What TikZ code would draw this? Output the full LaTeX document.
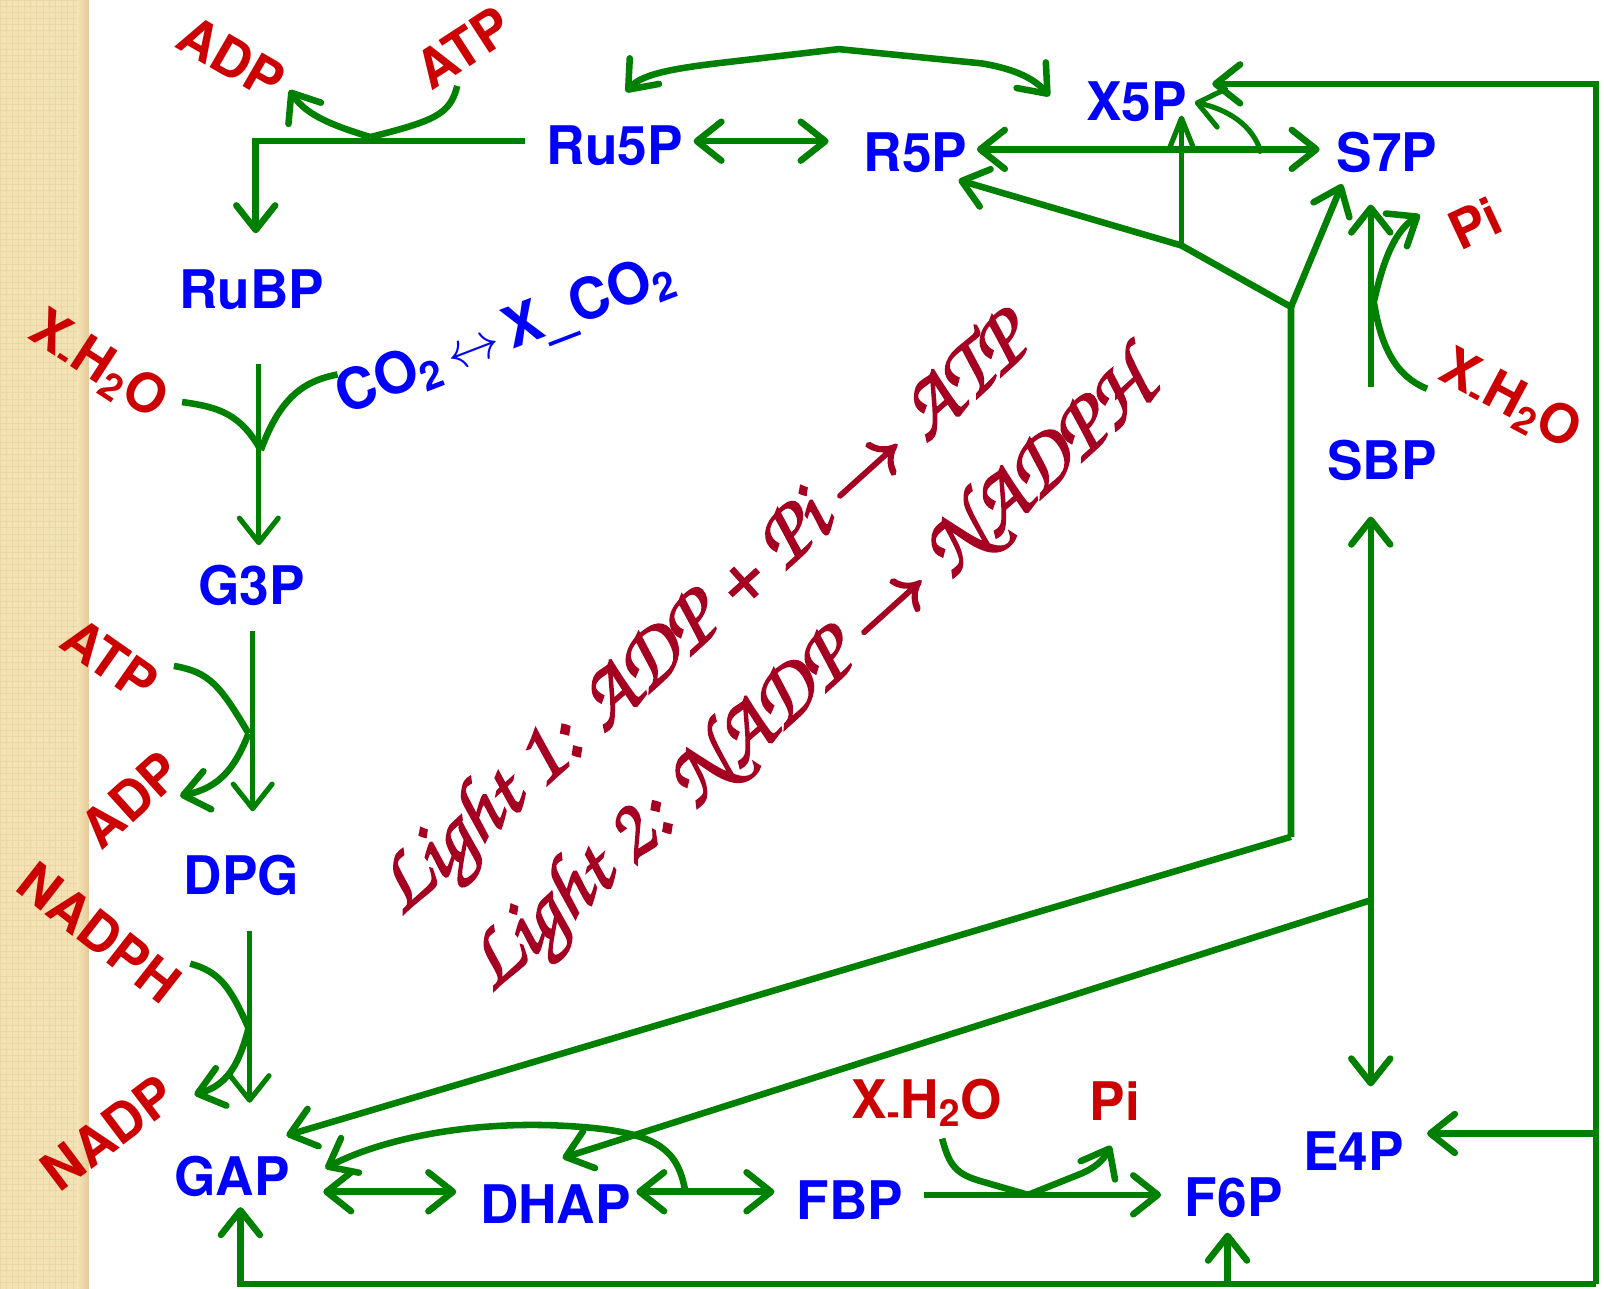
\documentclass[tikz,border=0pt]{standalone}
\usepackage[T1]{fontenc}
\usepackage{helvet}
\usepackage{graphicx}
\usetikzlibrary{arrows.meta}
\definecolor{pgreen}{RGB}{0,128,0}
\definecolor{mblue}{RGB}{0,0,255}
\definecolor{cred}{RGB}{204,0,0}
\definecolor{lightred}{RGB}{165,0,33}
\definecolor{strip}{RGB}{243,226,180}
\newcommand\labfont{\fontfamily{phv}\fontseries{b}\fontshape{n}\fontsize{26}{29}\selectfont}
\newcommand\chancery{\fontfamily{pzc}\fontseries{mb}\fontshape{it}\fontsize{42}{44}\selectfont}
\newcommand\water{X\textsubscript{-}H\textsubscript{2}O}
\newcommand\yields{\scalebox{1.7}[1.5]{$\rightarrow$}}
% heavier script strokes: fill and stroke the glyphs
\newcommand\heavy[1]{\special{pdf:literal direct 2 Tr 0.9 w}#1\special{pdf:literal direct 0 Tr}}
\begin{document}
\begin{tikzpicture}[x=0.5pt,y=-0.5pt,
  met/.style={text=mblue,font=\labfont,anchor=base,inner sep=0pt},
  cof/.style={text=cred,font=\labfont,inner sep=0pt},
  fl/.style={draw=pgreen,line width=3.2pt},
  thin fl/.style={draw=pgreen,line width=2.5pt},
  >={Straight Barb[length=12pt,width=19pt,round]},
  narrow/.style={-{Straight Barb[length=15pt,width=12pt,round]}}]
\useasboundingbox (0,0) rectangle (1568,1260);
% side strip
\fill[strip] (0,0) rectangle (87,1260);
\draw[strip!88!brown,line width=0.4pt,step=3pt] (0,0) grid (78,1260);
\shade[left color=strip,right color=strip!75!brown] (76,0) rectangle (87,1260);

% metabolites
\node[met] (Ru5P) at (601,161) {Ru5P};
\node[met] (R5P)  at (895,168) {R5P};
\node[met] (X5P)  at (1111,118) {X5P};
\node[met] (S7P)  at (1356,168) {S7P};
\node[met] (RuBP) at (246,302) {RuBP};
\node[met] (SBP)  at (1351,469) {SBP};
\node[met] (G3P)  at (246,591) {G3P};
\node[met] (DPG)  at (236,874) {DPG};
\node[met] (GAP)  at (227,1169) {GAP};
\node[met] (DHAP) at (543,1196) {DHAP};
\node[met] (FBP)  at (831,1192) {FBP};
\node[met] (F6P)  at (1206,1189) {F6P};
\node[met] (E4P)  at (1323,1144) {E4P};
\node[text=mblue,font=\labfont,rotate=21,inner sep=0pt,scale=1.06] (co2) at (494,328)
  {CO\textsubscript{2}\,$\leftrightarrow$\,X\_CO\textsubscript{2}};

% cofactors
\node[cof,rotate=-30] (adpT) at (226,57) {ADP};
\node[cof,rotate=33] (atpT) at (453,47) {ATP};
\node[cof,rotate=-33] (wL) at (96,358) {\water};
\node[cof,rotate=-35] (atpL) at (107,645) {ATP};
\node[cof,rotate=42] (adpL) at (128,782) {ADP};
\node[cof,rotate=-38] (nadphL) at (97,912) {NADPH};
\node[cof,rotate=37] (nadpL) at (106,1108) {NADP};
\node[cof,rotate=-28] (wR) at (1476,392) {\water};
\node[cof,rotate=25] (piR) at (1442,218) {Pi};
\node[cof,anchor=base] (wB) at (906,1093) {\water};
\node[cof,anchor=base] (piB) at (1090,1095) {Pi};

% light reactions
\node[text=lightred,font=\chancery,rotate=42] (light1) at (690,605)
  {\heavy{Light 1: ADP + Pi \yields\ ATP}};
\node[text=lightred,font=\chancery,rotate=42] (light2) at (795,665)
  {\heavy{Light 2: NADP \yields\ NADPH}};

% junction points
\coordinate (ru5pOut) at (513,138);
\coordinate (corner1) at (250,138);
\coordinate (rubpIn) at (250,228);
\coordinate (jATP) at (362,134);
\coordinate (atpTend) at (447,84);
\coordinate (adpTend) at (283,88);

% Ru5P -> RuBP with ATP -> ADP
\draw[fl,->] (ru5pOut) -- (corner1) -- (rubpIn);
\draw[fl] (atpTend) .. controls (440,112) and (425,118) .. (jATP);
\draw[fl,->] (jATP) .. controls (330,124) and (300,114) .. (adpTend);

% Ru5P <-> R5P, R5P <-> S7P
\draw[fl,<->] (678,138) -- (810,138);
\draw[fl,<->] (955,146) -- (1290,146);

% Ru5P <-> X5P arc
\coordinate (arcTop) at (820,48);
\draw[fl,<->] (612,90) .. controls (626,74) and (650,68) .. (700,62) -- (arcTop)
  -- (960,62) .. controls (995,68) and (1012,78) .. (1026,94);

% transketolase branches
\coordinate (k1) at (1155,240);
\coordinate (k2) at (1262,300);
\coordinate (k3) at (1262,818);
\draw[fl,->] (k3) -- (280,1110);
\draw[fl] (k3) -- (k2) -- (k1);
\draw[fl,->] (k2) -- (1312,180);
\draw[fl,->] (k1) -- (937,176);
\draw[thin fl,narrow] (k1) -- (1155,113);
\draw[thin fl,->] (1233,150) .. controls (1225,122) and (1200,107) .. (1168,100);

% outer frame
\coordinate (frTR) at (1560,82);
\coordinate (frBR) at (1560,1255);
\coordinate (frBL) at (235,1255);
\draw[fl,->] (frBR) -- (frTR) -- (1185,82);
\draw[fl,->] (frBR) -- (frBL) -- (235,1180);
\draw[fl,->] (1200,1255) -- (1200,1205);
\draw[fl,->] (1560,1108) -- (1395,1108);

% SBP -> S7P, H2O -> Pi
\draw[fl,->] (1340,378) -- (1340,200);
\draw[fl,->] (1395,380) .. controls (1365,368) and (1350,340) .. (1343,295)
  .. controls (1350,265) and (1360,228) .. (1388,210);

% SBP <-> E4P and branch to DHAP
\draw[fl,<->] (1340,505) -- (1340,1062);
\draw[fl,->] (1340,880) -- (550,1132);

% RuBP -> G3P
\draw[thin fl,->] (253,356) -- (253,533);
\draw[fl] (178,393) .. controls (215,398) and (235,405) .. (255,440);
\draw[fl] (330,366) .. controls (300,372) and (275,385) .. (255,440);

% G3P -> DPG
\draw[thin fl,->] (247,617) -- (247,793);
\draw[fl] (170,651) .. controls (205,657) and (215,670) .. (243,717);
\draw[fl,->] (243,717) .. controls (230,750) and (215,770) .. (176,778);

% DPG -> GAP
\draw[thin fl,->] (244,910) -- (244,1078);
\draw[fl] (186,942) .. controls (215,950) and (225,965) .. (243,1005);
\draw[fl,->] (243,1005) .. controls (235,1035) and (225,1060) .. (190,1070);

% GAP <-> DHAP <-> FBP
\draw[fl,<->] (316,1165) -- (446,1165);
\draw[fl,<->] (622,1165) -- (757,1165);
\draw[fl,->] (670,1165) .. controls (662,1120) and (640,1104) .. (540,1100)
  .. controls (450,1097) and (370,1115) .. (318,1142);

% FBP -> F6P with H2O -> Pi
\draw[fl,->] (903,1168) -- (1135,1168);
\draw[fl] (921,1113) .. controls (928,1140) and (935,1148) .. (960,1155) -- (1005,1168);
\draw[fl,->] (1005,1168) -- (1055,1148) .. controls (1070,1142) and (1078,1135) .. (1086,1120);
\end{tikzpicture}
\end{document}
